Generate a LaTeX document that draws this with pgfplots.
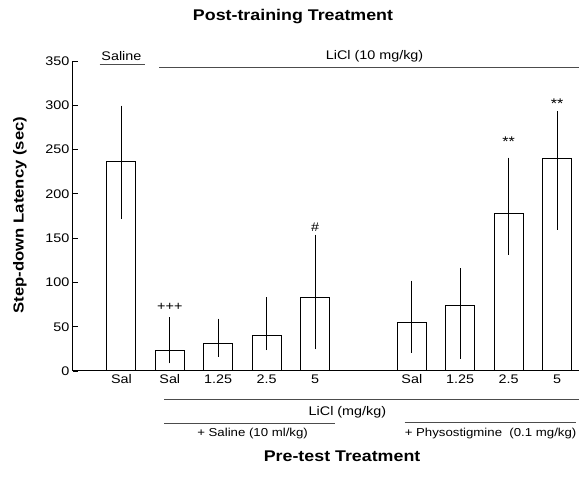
\documentclass[border=0pt]{standalone}
\usepackage{fontspec}
\setmainfont{Liberation Sans}[FakeStretch=1.15]
\usepackage{pgfplots}
\pgfplotsset{compat=1.18}

\begin{document}
\begin{tikzpicture}
\path (0,0) rectangle (581pt,486pt);
\begin{axis}[
    at={(73pt,115pt)}, anchor=south west,
    scale only axis, width=505.8pt, height=310pt,
    xmin=-1, xmax=9.45, ymin=0, ymax=350,
    axis x line=bottom, axis y line=left,
    axis line style={-, line width=1pt},
    xtick={0,1,2,3,4,6,7,8,9},
    xticklabels={Sal,Sal,1.25,2.5,5,Sal,1.25,2.5,5},
    ytick={0,50,...,350},
    x tick style={draw=none},
    y tick style={line width=0.8pt, black},
    tick align=inside, major tick length=5pt,
    tick label style={font=\fontsize{12.5}{14}\selectfont},
    /pgf/number format/assume math mode=true,
    clip=false,
    title={Post-training Treatment},
    title style={at={(axis description cs:0.435,1.125)}, anchor=center,
        font=\fontsize{15.5}{18}\selectfont\bfseries},
    xlabel={Pre-test Treatment},
    xlabel style={at={(axis description cs:0.532,-0.274)}, anchor=center,
        font=\fontsize{15.5}{18}\selectfont\bfseries},
    ylabel={Step-down Latency (sec)},
    ylabel style={at={(axis description cs:-0.105,0.503)}, anchor=center,
        rotate=0, font=\fontsize{14.5}{17}\selectfont\bfseries},
]
\addplot[ybar, bar width=29pt, draw=black, fill=white, line width=1pt,
    error bars/.cd, y dir=both, y explicit, error mark=none,
    error bar style={line width=0.9pt, black}]
coordinates {
(0,236)   += (0,63.5) -= (0,64.4)
(1,23.7)  += (0,37)   -= (0,15)
(2,30.5)  += (0,28.5) -= (0,14.5)
(3,40.3)  += (0,42.7) -= (0,16.6)
(4,83)    += (0,71)   -= (0,58.5)
(6,54.5)  += (0,47.5) -= (0,33.8)
(7,74.5)  += (0,41.5) -= (0,60.5)
(8,178.3) += (0,62.5) -= (0,47.3)
(9,240.4) += (0,52.6) -= (0,80.9)
};

% significance marks
\node[font=\fontsize{12.5}{14}\selectfont] at (axis cs:1,72) {+++};
\node[font=\fontsize{12.5}{14}\selectfont] at (axis cs:4,162) {\#};
\node[font=\fontsize{14}{16}\selectfont] at (axis cs:8,259) {**};
\node[font=\fontsize{14}{16}\selectfont] at (axis cs:9,302) {**};

% post-training brackets
\draw[gray!60!black, line width=0.9pt] (axis cs:-0.45,346.5) -- (axis cs:0.48,346.5);
\node[font=\fontsize{12.5}{14}\selectfont] at (axis cs:0,356) {Saline};
\draw[gray!60!black, line width=0.9pt] (axis cs:0.785,343) -- (axis cs:9.46,343);
\node[font=\fontsize{12.5}{14}\selectfont] at (axis cs:5.23,355) {LiCl (10 mg/kg)};

% pre-test brackets
\draw[gray!60!black, line width=0.9pt] (axis cs:0.89,-31.6) -- (axis cs:9.46,-31.6);
\node[font=\fontsize{12.5}{14}\selectfont] at (axis cs:4.67,-46.3) {LiCl (mg/kg)};
\draw[gray!60!black, line width=0.9pt] (axis cs:0.89,-58.7) -- (axis cs:4.42,-58.7);
\node[font=\fontsize{11.5}{13}\selectfont] at (axis cs:2.71,-70.5) {+ Saline (10 ml/kg)};
\draw[gray!60!black, line width=0.9pt] (axis cs:5.85,-57.6) -- (axis cs:9.40,-57.6);
\node[font=\fontsize{11.5}{13}\selectfont, anchor=west, inner sep=0pt] at (axis cs:5.85,-70.5) {+ Physostigmine\ \ (0.1 mg/kg)};
\end{axis}
\end{tikzpicture}
\end{document}
